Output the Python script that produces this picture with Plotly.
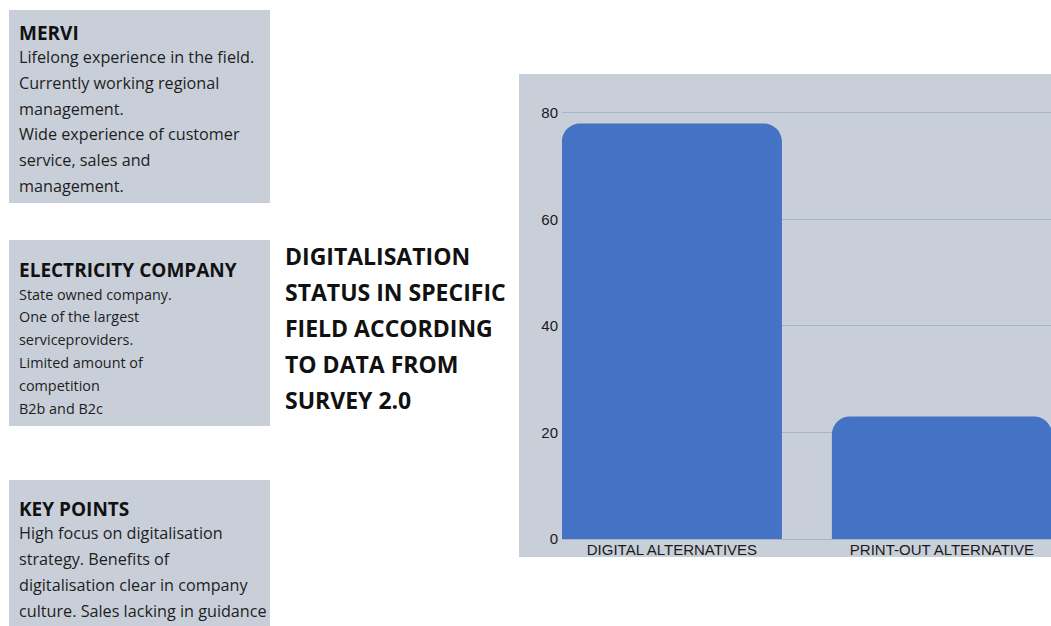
import plotly.graph_objects as go

# Survey result: share of respondents per alternative
categories = ["DIGITAL ALTERNATIVES", "PRINT-OUT ALTERNATIVE"]
values = [78, 23]
y_ticks = [0, 20, 40, 60, 80]

title_lines = ["DIGITALISATION", "STATUS IN SPECIFIC", "FIELD ACCORDING",
               "TO DATA FROM", "SURVEY 2.0"]

mervi_head = "MERVI"
mervi_lines = ["Lifelong experience in the field.", "Currently working regional",
               "management.", "Wide experience of customer",
               "service, sales and", "management."]

company_head = "ELECTRICITY COMPANY"
company_lines = ["State owned company.", "One of the largest",
                 "serviceproviders.", "Limited amount of", "competition",
                 "B2b and B2c"]

key_head = "KEY POINTS"
key_lines = ["High focus on digitalisation", "strategy. Benefits of",
             "digitalisation clear in company", "culture. Sales lacking in guidance"]

W, H = 1051, 626
PL, PR, PT, PB = 562, 0, 74, 87
BOX = "#c8cfd9"
BAR = "#4472c4"
GRID = "#aab3c0"
TEXT_FONT = "Open Sans"


def px(x):
    return (x - PL) / (W - PL - PR)


def py(y):
    return (H - PB - y) / (H - PT - PB)


fig = go.Figure(go.Bar(
    x=[0, 1], y=values, width=0.815,
    marker=dict(color=BAR, line=dict(width=0), cornerradius=18),
    hoverinfo="x+y",
))

shapes = []
for x0, y0, x1, y1 in [(9, 10, 270, 203), (9, 240, 270, 426), (9, 480, 270, 640),
                       (519, 74, 1051, 557)]:
    shapes.append(dict(type="rect", xref="paper", yref="paper",
                       x0=px(x0), x1=px(x1), y0=py(y0), y1=py(y1),
                       fillcolor=BOX, line=dict(width=0), layer="below"))

annotations = []
TX = 17


def add_block(head, lines, head_y, first_y, step, size, head_size=19):
    annotations.append(dict(text="<b>%s</b>" % head, x=px(TX), y=py(head_y),
                            xref="paper", yref="paper", xanchor="left", yanchor="middle",
                            showarrow=False,
                            font=dict(family=TEXT_FONT, size=head_size, color="#111")))
    for i, line in enumerate(lines):
        annotations.append(dict(text=line, x=px(TX), y=py(first_y + i * step),
                                xref="paper", yref="paper", xanchor="left",
                                yanchor="middle", showarrow=False,
                                font=dict(family=TEXT_FONT, size=size, color="#1e1e1e")))


add_block(mervi_head, mervi_lines, 33, 57, 25.8, 16.2)
add_block(company_head, company_lines, 270, 294, 22.8, 14.4)
add_block(key_head, key_lines, 509, 533, 26, 16.2)

for i, line in enumerate(title_lines):
    annotations.append(dict(text="<b>%s</b>" % line, x=px(283), y=py(256 + i * 36),
                            xref="paper", yref="paper", xanchor="left", yanchor="middle",
                            showarrow=False,
                            font=dict(family=TEXT_FONT, size=23, color="#111")))

fig.update_layout(
    width=W, height=H,
    margin=dict(l=PL, r=PR, t=PT, b=PB, pad=0),
    paper_bgcolor="white", plot_bgcolor=BOX,
    showlegend=False,
    shapes=shapes, annotations=annotations,
    xaxis=dict(range=[-0.407, 1.404], tickvals=[0, 1], ticktext=categories,
               showgrid=False, zeroline=False, showline=False, ticks="",
               ticklabelstandoff=0,
               tickfont=dict(family="Liberation Sans", size=15, color="#1a1a1a")),
    yaxis=dict(range=[0, 87.3], tickvals=y_ticks, showgrid=True, gridcolor=GRID,
               gridwidth=1, zeroline=True, zerolinecolor=GRID, zerolinewidth=1,
               showline=False, ticks="", ticklabelstandoff=3,
               tickfont=dict(family="Liberation Sans", size=15, color="#1a1a1a")),
)

fig.write_html("out.html")
